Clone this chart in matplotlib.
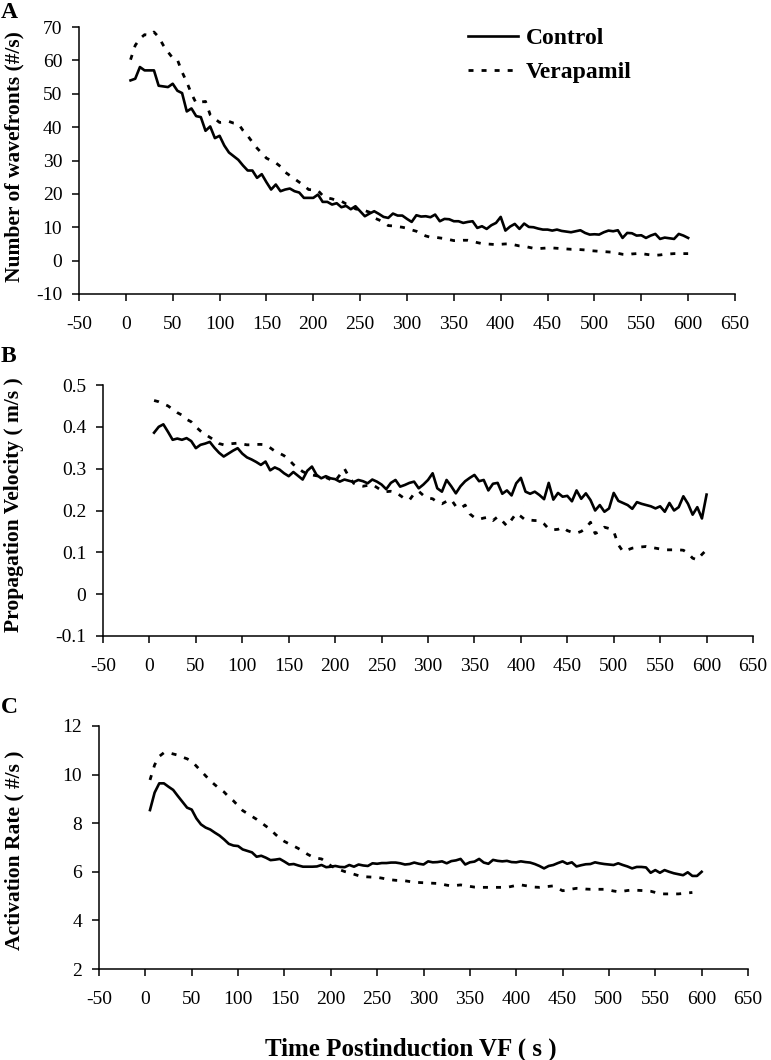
"""Three-panel VF time course: wavefronts, propagation velocity, activation rate."""

import matplotlib

matplotlib.use("Agg")
import matplotlib.pyplot as plt
import numpy as np

plt.rcParams["font.family"] = ["Liberation Serif", "DejaVu Serif"]
plt.rcParams["axes.unicode_minus"] = False

# time after induction (s), 5 s bins
time_s = np.arange(5, 601, 5)

control_a = [
    54.0, 54.5, 58.0, 57.0, 57.0, 57.0, 52.4, 52.2, 52.0, 53.0,
    50.9, 50.2, 44.7, 45.6, 43.3, 43.0, 38.9, 40.2, 36.7, 37.4,
    34.5, 32.4, 31.3, 30.2, 28.5, 27.0, 27.0, 24.8, 25.9, 23.5,
    21.3, 22.8, 20.8, 21.3, 21.6, 20.8, 20.4, 18.8, 18.8, 18.8,
    19.8, 17.6, 17.6, 16.8, 17.2, 16.0, 16.4, 15.4, 16.3, 14.8,
    13.3, 14.1, 14.8, 14.0, 13.1, 12.8, 14.1, 13.5, 13.5, 12.5,
    11.6, 13.6, 13.2, 13.3, 13.0, 13.8, 11.8, 12.5, 12.4, 11.8,
    11.8, 11.3, 11.6, 11.8, 9.8, 10.3, 9.5, 10.6, 11.3, 13.1,
    9.0, 10.2, 11.0, 9.5, 11.1, 10.1, 10.0, 9.6, 9.3, 9.3,
    9.0, 9.3, 8.9, 8.7, 8.5, 8.8, 9.1, 8.3, 7.8, 7.9,
    7.8, 8.5, 9.0, 8.8, 9.1, 6.8, 8.3, 8.2, 7.5, 7.6,
    6.8, 7.5, 8.0, 6.5, 6.9, 6.7, 6.5, 8.0, 7.5, 6.8,
]
verapamil_a = [
    60.2, 64.5, 66.5, 67.7, 67.5, 68.5, 67.0, 64.5, 62.5, 60.7,
    60.2, 56.5, 53.5, 50.0, 47.2, 47.5, 47.7, 43.7, 42.5, 41.4,
    41.5, 41.7, 41.2, 41.0, 39.0, 37.4, 35.5, 33.7, 32.2, 30.7,
    30.0, 29.3, 28.2, 26.5, 25.5, 24.5, 23.5, 22.5, 21.3, 21.2,
    21.0, 19.5, 18.8, 18.5, 18.0, 17.8, 17.0, 16.5, 15.5, 15.2,
    15.0, 14.5, 12.8, 12.2, 11.5, 10.5, 10.4, 10.2, 10.0, 9.7,
    9.2, 8.8, 8.0, 7.4, 7.0, 7.0, 6.8, 6.6, 6.3, 6.0,
    6.0, 6.1, 6.1, 5.8, 5.4, 5.1, 5.0, 4.9, 4.8, 4.9,
    5.0, 5.0, 4.7, 4.4, 4.3, 4.0, 3.7, 3.6, 3.7, 3.8,
    3.8, 3.7, 3.6, 3.5, 3.4, 3.4, 3.3, 3.2, 3.0, 2.9,
    2.8, 2.7, 2.6, 2.5, 2.2, 1.9, 1.8, 2.0, 2.1, 2.1,
    1.9, 1.7, 1.6, 1.7, 1.9, 2.0, 2.1, 2.1, 2.1, 2.1,
]

control_b = [
    0.386, 0.400, 0.406, 0.388, 0.369, 0.372, 0.369, 0.373, 0.366, 0.349,
    0.357, 0.360, 0.364, 0.350, 0.338, 0.329, 0.336, 0.343, 0.349, 0.336,
    0.327, 0.322, 0.316, 0.309, 0.317, 0.296, 0.303, 0.298, 0.289, 0.282,
    0.292, 0.283, 0.274, 0.295, 0.305, 0.285, 0.277, 0.282, 0.277, 0.275,
    0.269, 0.274, 0.271, 0.268, 0.273, 0.270, 0.265, 0.274, 0.269, 0.262,
    0.251, 0.266, 0.273, 0.257, 0.261, 0.266, 0.269, 0.253, 0.262, 0.273,
    0.289, 0.253, 0.245, 0.273, 0.258, 0.241, 0.258, 0.270, 0.278, 0.285,
    0.270, 0.273, 0.248, 0.264, 0.266, 0.240, 0.248, 0.236, 0.265, 0.278,
    0.245, 0.240, 0.245, 0.237, 0.227, 0.266, 0.226, 0.242, 0.233, 0.235,
    0.222, 0.248, 0.228, 0.241, 0.225, 0.200, 0.213, 0.197, 0.205, 0.242,
    0.223, 0.218, 0.213, 0.204, 0.220, 0.216, 0.213, 0.210, 0.205, 0.210,
    0.197, 0.218, 0.200, 0.208, 0.234, 0.216, 0.190, 0.208, 0.181, 0.238,
]
verapamil_b = [
    0.463, 0.460, 0.455, 0.450, 0.442, 0.434, 0.428, 0.418, 0.412, 0.400,
    0.390, 0.382, 0.375, 0.368, 0.360, 0.357, 0.359, 0.360, 0.361, 0.359,
    0.357, 0.357, 0.358, 0.358, 0.357, 0.350, 0.342, 0.337, 0.331, 0.322,
    0.310, 0.302, 0.293, 0.288, 0.285, 0.283, 0.282, 0.279, 0.274, 0.270,
    0.285, 0.300, 0.280, 0.265, 0.260, 0.258, 0.260, 0.262, 0.255, 0.248,
    0.245, 0.246, 0.244, 0.236, 0.228, 0.225, 0.240, 0.246, 0.236, 0.230,
    0.228, 0.220, 0.216, 0.222, 0.226, 0.210, 0.205, 0.213, 0.192, 0.183,
    0.179, 0.182, 0.184, 0.176, 0.185, 0.175, 0.163, 0.178, 0.193, 0.186,
    0.177, 0.177, 0.176, 0.176, 0.168, 0.156, 0.154, 0.155, 0.160, 0.152,
    0.148, 0.146, 0.150, 0.158, 0.172, 0.145, 0.150, 0.160, 0.157, 0.150,
    0.118, 0.102, 0.106, 0.110, 0.112, 0.113, 0.114, 0.112, 0.110, 0.108,
    0.106, 0.106, 0.106, 0.106, 0.105, 0.098, 0.086, 0.082, 0.095, 0.106,
]

control_c = [
    8.54, 9.26, 9.64, 9.64, 9.50, 9.37, 9.12, 8.88, 8.64, 8.56,
    8.20, 7.95, 7.82, 7.74, 7.61, 7.49, 7.33, 7.15, 7.08, 7.06,
    6.92, 6.86, 6.80, 6.62, 6.66, 6.58, 6.48, 6.50, 6.53, 6.42,
    6.30, 6.32, 6.26, 6.21, 6.21, 6.21, 6.22, 6.28, 6.19, 6.21,
    6.24, 6.20, 6.19, 6.28, 6.21, 6.30, 6.26, 6.24, 6.35, 6.33,
    6.36, 6.36, 6.38, 6.38, 6.35, 6.30, 6.32, 6.38, 6.33, 6.30,
    6.43, 6.39, 6.40, 6.43, 6.35, 6.44, 6.47, 6.53, 6.30, 6.39,
    6.42, 6.53, 6.38, 6.33, 6.49, 6.45, 6.43, 6.45, 6.40, 6.39,
    6.43, 6.40, 6.38, 6.32, 6.24, 6.14, 6.24, 6.28, 6.36, 6.43,
    6.33, 6.39, 6.22, 6.27, 6.31, 6.32, 6.39, 6.35, 6.32, 6.30,
    6.28, 6.35, 6.28, 6.22, 6.14, 6.20, 6.20, 6.18, 5.96, 6.07,
    5.96, 6.07, 6.00, 5.94, 5.90, 5.86, 5.98, 5.83, 5.83, 6.00,
]
# verapamil recording stops at 590 s
verapamil_c = [
    9.78, 10.40, 10.75, 10.90, 10.90, 10.85, 10.80, 10.72, 10.65, 10.55,
    10.35, 10.15, 9.95, 9.75, 9.58, 9.42, 9.28, 9.08, 8.92, 8.72,
    8.52, 8.40, 8.28, 8.16, 8.02, 7.88, 7.74, 7.55, 7.38, 7.25,
    7.15, 7.06, 6.96, 6.85, 6.72, 6.62, 6.56, 6.53, 6.40, 6.25,
    6.15, 6.08, 6.01, 5.96, 5.90, 5.84, 5.80, 5.79, 5.78, 5.77,
    5.74, 5.70, 5.67, 5.65, 5.64, 5.63, 5.60, 5.57, 5.56, 5.55,
    5.54, 5.53, 5.52, 5.49, 5.45, 5.42, 5.44, 5.46, 5.43, 5.40,
    5.37, 5.36, 5.36, 5.36, 5.36, 5.36, 5.36, 5.36, 5.40, 5.44,
    5.46, 5.43, 5.40, 5.37, 5.36, 5.38, 5.40, 5.42, 5.32, 5.22,
    5.25, 5.29, 5.32, 5.31, 5.29, 5.28, 5.28, 5.28, 5.28, 5.25,
    5.21, 5.18, 5.20, 5.23, 5.25, 5.24, 5.23, 5.22, 5.20, 5.15,
    5.10, 5.09, 5.09, 5.09, 5.09, 5.11, 5.13, 5.15,
]

x_ticks = list(range(-50, 651, 50))
a_ticks = list(range(-10, 71, 10))
b_ticks = [-0.1, 0.0, 0.1, 0.2, 0.3, 0.4, 0.5]
b_ticklabels = ["-0.1", "0", "0.1", "0.2", "0.3", "0.4", "0.5"]
c_ticks = [2, 4, 6, 8, 10, 12]

panels = [
    ("A", "Number of wavefronts (#/s)", control_a, verapamil_a, a_ticks, None),
    ("B", "Propagation Velocity ( m/s )", control_b, verapamil_b, b_ticks, b_ticklabels),
    ("C", "Activation Rate ( #/s )", control_c, verapamil_c, c_ticks, None),
]

W, H = 771, 1060
# plot boxes in pixels: left, top, right, bottom
boxes = [(79, 27, 735, 294), (103, 385, 753, 636), (99, 726, 748, 969)]
letter_y = [2, 346, 697]
label_center = [157, 505, 850]

DASH = (0, (1.8, 2.9))

fig = plt.figure(figsize=(W / 100, H / 100), dpi=100)
axes = []
for (letter, ylabel, ctrl, vera, yt, ytl), (l, t, r, b), ly, lc in zip(
    panels, boxes, letter_y, label_center
):
    ax = fig.add_axes([l / W, 1 - b / H, (r - l) / W, (b - t) / H])
    ax.plot(time_s[: len(ctrl)], ctrl, color="black", lw=1.9, label="Control")
    ax.plot(time_s[: len(vera)], vera, color="black", lw=2.0, ls=DASH, label="Verapamil")
    ax.set_xlim(-50, 650)
    ax.set_ylim(yt[0], yt[-1])
    ax.set_xticks(x_ticks)
    ax.set_yticks(yt)
    if ytl is not None:
        ax.set_yticklabels(ytl)
    for side in ("top", "right"):
        ax.spines[side].set_visible(False)
    for side in ("left", "bottom"):
        ax.spines[side].set_linewidth(1.1)
    ax.tick_params(axis="both", direction="out", length=5, width=1.1, labelsize=14)
    ax.tick_params(axis="x", pad=11)
    ax.tick_params(axis="y", pad=7)
    ax.set_ylabel(ylabel, fontsize=15.5, fontweight="bold")
    ax.yaxis.set_label_coords(24 / W, 1 - lc / H, transform=fig.transFigure)
    fig.text(1 / W, 1 - ly / H, letter, fontsize=17, fontweight="bold", ha="left", va="top")
    axes.append(ax)

axes[0].legend(
    loc="upper left",
    bbox_to_anchor=(447 / W, 1 - 6 / H),
    bbox_transform=fig.transFigure,
    frameon=False,
    prop={"size": 17, "weight": "bold"},
    handlelength=2.1,
    handletextpad=0.35,
    labelspacing=0.55,
)

fig.text(411 / W, 1 - 1049 / H, "Time Postinduction VF ( s )", fontsize=18,
         fontweight="bold", ha="center", va="center")

fig.savefig("out.png", dpi=100)
